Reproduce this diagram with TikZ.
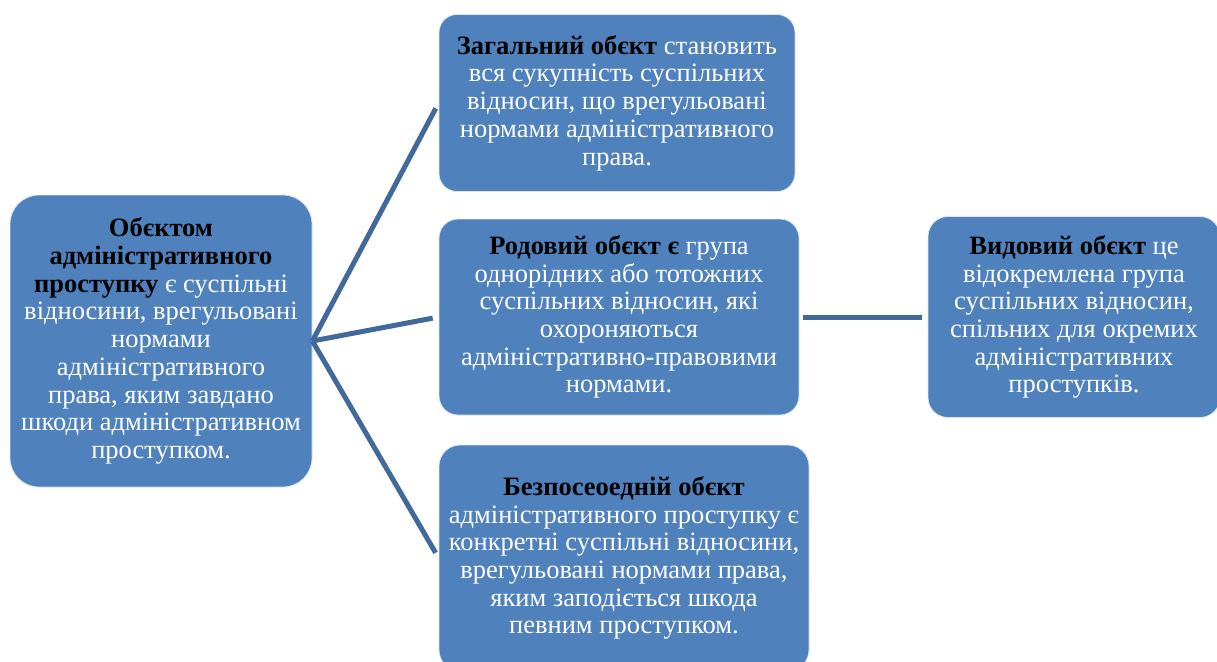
\documentclass[tikz,border=0pt]{standalone}
\usepackage{fontspec}
\setmainfont{Liberation Serif}
\definecolor{boxfill}{HTML}{4F81BD}
\definecolor{boxedge}{HTML}{DCE6F2}
\definecolor{linkcol}{HTML}{41699C}
\begin{document}
\begin{tikzpicture}[x=1pt,y=-1pt,
  card/.style={rectangle, fill=boxfill, draw=boxedge, line width=0.8pt,
    align=center, text=white, inner sep=0pt,
    font=\fontsize{26.5}{27.7}\selectfont},
  link/.style={draw=linkcol, line width=5pt, line cap=butt}]
\useasboundingbox (0,0) rectangle (1217,661);

% central box
\node[card, rounded corners=29pt, minimum width=302pt, minimum height=292pt]
  (root) at (161,341) {\textbf{\color{black}Обєктом}\\
  \textbf{\color{black}адміністративного}\\
  \textbf{\color{black}проступку} є суспільні\\
  відносини, врегульовані\\ нормами\\ адміністративного\\
  права, яким завдано\\ шкоди адміністративном\\ проступком.};

% three kinds of object
\node[card, rounded corners=18pt, minimum width=356pt, minimum height=177pt]
  (general) at (617,103) {\textbf{\color{black}Загальний обєкт} становить\\
  вся сукупність суспільних\\ відносин, що врегульовані\\
  нормами адміністративного\\ права.};

\node[card, rounded corners=19pt, minimum width=360pt, minimum height=196pt]
  (generic) at (619,317) {\textbf{\color{black}Родовий обєкт є} група\\
  однорідних або тотожних\\ суспільних відносин, які\\ охороняються\\
  адміністративно-правовими\\ нормами.};

\node[card, rounded corners=21pt, minimum width=370pt, minimum height=226pt]
  (direct) at (624,558) {\textbf{\color{black}Безпосеоедній обєкт}\\
  адміністративного проступку є\\ конкретні суспільні відносини,\\
  врегульовані нормами права,\\ яким заподіється шкода\\ певним проступком.};

\node[card, rounded corners=20pt, minimum width=292pt, minimum height=201pt]
  (specific) at (1074,317) {\textbf{\color{black}Видовий обєкт} це\\
  відокремлена група\\ суспільних відносин,\\ спільних для окремих\\
  адміністративних\\ проступків.};

% connectors
\draw[link, shorten >=6pt] (root.east) -- (general.west);
\draw[link, shorten >=6pt] (root.east) -- (generic.west);
\draw[link, shorten >=6pt] (root.east) -- (direct.west);
\draw[link, shorten <=4pt, shorten >=6pt] (generic.east) -- (specific.west);
\end{tikzpicture}
\end{document}
